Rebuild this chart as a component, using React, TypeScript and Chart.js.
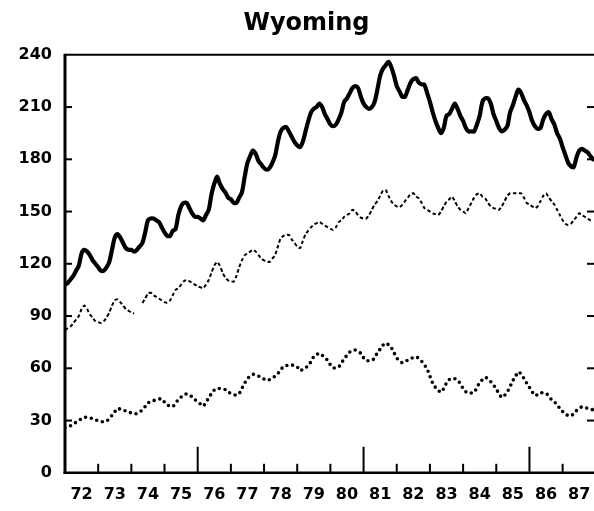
import React, { useEffect, useRef } from "react";
import { Chart, registerables } from "chart.js";

Chart.register(...registerables);

const yearLabels = ["72","73","74","75","76","77","78","79","80","81","82","83","84","85","86","87"];
const yTickValues = [0, 30, 60, 90, 120, 150, 180, 210, 240];

// Monthly values, Jan 1972 .. Dec 1987 (one row per year)
const solidSeries = [
  108,109,111,113,116,119,126,128,127,125,122,120,
  118,116,116,118,121,128,135,137,135,132,129,128,
  128,127,128,130,132,138,145,146,146,145,144,141,
  138,136,136,139,140,148,153,155,155,152,149,147,
  147,146,145,148,151,160,166,170,166,163,161,158,
  157,155,155,158,161,170,178,182,185,183,179,177,
  175,174,175,178,182,190,196,198,198.5,196,193,190,
  188,187,190,196,202,207,209,210,212,210,206,203,
  200,199,200,203,207,213,215,218,221,222,221,216,
  212,210,209,210,213,220,228,232,234,236,233,228,
  222,219,216,216,220,224,226,226.6,224,223,222.8,218,
  213,207,202,198,195,198,205,206,209,212,209,205,
  202,198,196,196,196,200,205,213,215,215,212,206,
  202,198,196,197,199,207,211,216,220,218,214,211,
  207,202,199,197.5,198,203,206,207,203,200,195,192,
  187,182.5,178,176,175.5,181,185,186,185,184,182,180
];

const dashedSeries = [
  82,83,84,86,88,90,94,96,94,91,89,87,
  86.5,86,87,89,92,96,99,99.6,98,96,94,93,
  92,91.5,null,null,97.5,100,103,103.4,102,101,100,99,
  98,97.7,99,102,105,106,108,110,110.7,110,109,108,
  107,106.5,106,108,110.7,115,119,121,119,115,112,110.5,
  110,109.7,113,118,122,125,126,127,128,127,125,123,
  122,121.5,121,123,125,130,134.5,136,136.6,136.6,134,132,
  130,129,133,137,139,141,142.5,143.3,144,143,142,141,
  140,139.5,141,144,145,147,148,149,151,150,148,146.5,
  146,146,148,151,154,156,159,162,162.4,159,156,154,
  153,152.5,153.8,156,158,160,160.5,158.6,157.6,155,152,151,
  150,149,148.5,148,150,153,155.7,157,158.6,156,153,151,
  150,149,152,155,158,160,160.5,158.5,157.6,155,153,152,
  151.5,151,153,156,159,160.5,160.5,160.5,160.5,160.5,158,155,
  154,153,152,153,156,159,160.5,158,156,154,151,148,
  145,143,142.3,143,145,147,149,148,147,146,145,144
];

const dottedSeries = [
  26,26.4,27,28,29,30,31,31.8,31.8,31.6,31,30.3,
  30,29.5,29.3,29.7,31,33,35,37,36.5,36,35.5,35,
  34.3,33.8,34,35,36,38,40,41,41.5,41.8,42.3,42.5,
  40.5,39,38.2,38,40,42,43.5,45,45.2,44.8,43.5,42,
  40.8,39.5,38.3,40.5,43,45.5,47.5,48.5,48.3,48,47.8,46.5,
  45.5,45,44.6,45.5,48.5,51.5,54,55.5,56.5,56.2,55.5,54.8,
  53.8,53,53.5,54.5,55.5,57,59,61,61.5,62,61.9,61.5,
  60.8,58.6,59.5,60.5,61.3,64,66.7,67.8,68.6,67.5,66,64.5,
  62,60.3,60.2,60.8,63,65.5,67.5,69.3,70.2,70.5,69.5,68.6,
  66,64.4,64.4,64.5,66,69,71,73.2,74.5,73.5,72,69,
  66,64.2,63.2,63.8,64.8,65.5,66.2,66.6,65.5,64,62,59.5,
  55.5,51.5,49,47.5,46.2,48.5,51.5,53.5,54.2,54,53.3,51,
  48.5,46.5,45.6,45.8,46.2,49,51.7,53.5,54.8,53.8,52.3,50.5,
  48,45.5,43.3,44.5,46.5,49.5,52.9,55.5,58,56.5,54.2,51.5,
  49,46.5,44.3,45,46,45.8,45.6,44,42,40.8,39,37,
  35.2,33.5,33,32.6,34,35.7,36.8,37.9,37.5,37,36.4,36.2
];

const toPoints = (vals: (number | null)[]) => vals.map((v, i) => ({ x: i, y: v }));

const framePlugin = {
  id: "frame",
  afterDatasetsDraw(chart: any) {
    const { ctx, chartArea, scales } = chart;
    const { left, right, top, bottom } = chartArea;
    const x = scales.x;
    const y = scales.y;
    ctx.save();
    ctx.strokeStyle = "#000";
    ctx.lineCap = "butt";
    // top border
    ctx.lineWidth = 2;
    ctx.beginPath();
    ctx.moveTo(left, top);
    ctx.lineTo(right, top);
    ctx.stroke();
    // bottom axis
    ctx.lineWidth = 2.5;
    ctx.beginPath();
    ctx.moveTo(left - 1.5, bottom);
    ctx.lineTo(right, bottom);
    ctx.stroke();
    // left axis
    ctx.lineWidth = 3;
    ctx.beginPath();
    ctx.moveTo(left, top - 1);
    ctx.lineTo(left, bottom + 1);
    ctx.stroke();
    // year boundary ticks
    ctx.lineWidth = 2;
    for (let k = 1; k < yearLabels.length; k++) {
      const px = x.getPixelForValue(12 * k);
      const len = k % 5 === 4 ? 26 : 9;
      ctx.beginPath();
      ctx.moveTo(px, bottom);
      ctx.lineTo(px, bottom - len);
      ctx.stroke();
    }
    // y ticks, left and right
    for (const v of yTickValues) {
      if (v === 0 || v === 240) continue;
      const py = y.getPixelForValue(v);
      ctx.beginPath();
      ctx.moveTo(left, py);
      ctx.lineTo(left + 7, py);
      ctx.stroke();
      ctx.beginPath();
      ctx.moveTo(right - 7, py);
      ctx.lineTo(right, py);
      ctx.stroke();
    }
    ctx.restore();
  },
};

export default function App() {
  const ref = useRef<HTMLCanvasElement | null>(null);

  useEffect(() => {
    document.body.style.margin = "0";
    if (!ref.current) return;
    const font = "'DejaVu Sans', sans-serif";
    const chart = new Chart(ref.current, {
      type: "line",
      data: {
        datasets: [
          {
            label: "solid",
            data: toPoints(solidSeries) as any,
            borderColor: "#000",
            borderWidth: 4.2,
            pointRadius: 0,
            tension: 0.3,
            borderJoinStyle: "round",
            borderCapStyle: "round",
          },
          {
            label: "dashed",
            data: toPoints(dashedSeries) as any,
            borderColor: "#000",
            borderWidth: 2,
            borderDash: [3.5, 2.5],
            pointRadius: 0,
            tension: 0.2,
            spanGaps: false,
          },
          {
            label: "dotted",
            data: toPoints(dottedSeries) as any,
            borderColor: "#000",
            borderWidth: 3.6,
            borderDash: [0, 5.8],
            borderCapStyle: "round",
            pointRadius: 0,
            tension: 0.3,
          },
        ],
      },
      options: {
        animation: false,
        responsive: false,
        layout: { padding: { left: 19, right: 0, top: 0, bottom: 7 } },
        plugins: {
          legend: { display: false },
          tooltip: { enabled: false },
          title: {
            display: true,
            text: "Wyoming",
            color: "#000",
            font: { family: font, size: 24, weight: "bold" },
            padding: { top: 9, bottom: 17 },
          },
        },
        scales: {
          x: {
            type: "linear",
            min: 0,
            max: 191.35,
            grid: { display: false, drawTicks: false },
            border: { display: false },
            afterBuildTicks: (scale: any) => {
              scale.ticks = yearLabels.map((_, i) => ({ value: 12 * i + 6 }));
            },
            afterFit: (scale: any) => {
              scale.height = 31.2;
              scale.paddingLeft = 0;
              scale.paddingRight = 0;
            },
            ticks: {
              color: "#000",
              padding: 12,
              autoSkip: false,
              maxRotation: 0,
              font: { family: font, size: 16, weight: "bold" },
              callback: (v: any) => yearLabels[Math.round((Number(v) - 6) / 12)],
            },
          },
          y: {
            min: 0,
            max: 240,
            grid: { display: false, drawTicks: false },
            border: { display: false },
            afterBuildTicks: (scale: any) => {
              scale.ticks = yTickValues.map((v) => ({ value: v }));
            },
            afterFit: (scale: any) => {
              scale.width = 46;
            },
            ticks: {
              color: "#000",
              padding: 13,
              font: { family: font, size: 16, weight: "bold" },
            },
          },
        },
      },
      plugins: [framePlugin],
    });
    return () => chart.destroy();
  }, []);

  return (
    <div style={{ width: 594, height: 511, background: "#fff" }}>
      <canvas ref={ref} width={594} height={511} style={{ display: "block" }} />
    </div>
  );
}
